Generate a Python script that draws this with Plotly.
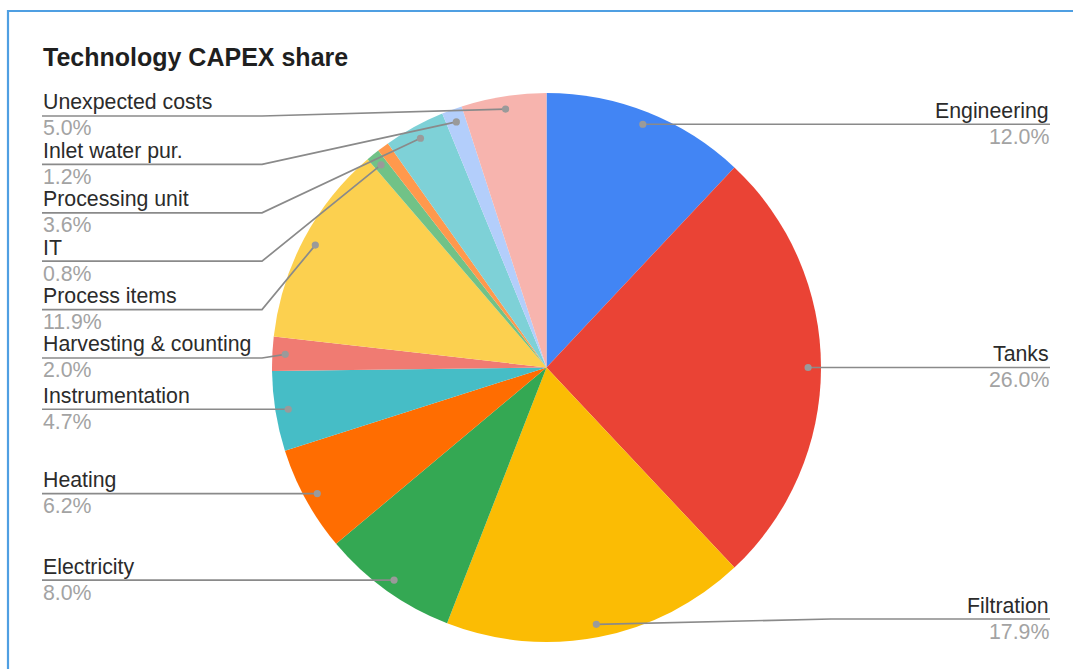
import math
import plotly.graph_objects as go

# Technology CAPEX share, in slice order (clockwise from 12 o'clock)
categories = [
    "Engineering", "Tanks", "Filtration", "Electricity", "Heating",
    "Instrumentation", "Harvesting & counting", "Process items", "IT",
    "Other", "Processing unit", "Inlet water pur.", "Unexpected costs",
]
shares = [12.0, 26.0, 17.9, 8.0, 6.2, 4.7, 2.0, 11.9, 0.8, 0.7, 3.6, 1.2, 5.0]
show_label = [True] * 9 + [False] + [True] * 3

colors = [
    "#4285F4", "#EA4335", "#FBBC04", "#34A853", "#FF6D01", "#46BDC6",
    "#F07B72", "#FCD04F", "#71C287", "#FF994D", "#7ED1D7", "#B3CEFB", "#F7B4AE",
]

W, H = 1073, 669
CX, CY, R = 546.5, 367.5, 274.5
DOT_R = 0.953 * R
LEFT_X, RIGHT_X = 42, 1050
BEND = R + 10
TOP_LIMIT, BOTTOM_LIMIT, GAP = 116, 619, 48.4
FONT = "Liberation Sans, Arial, sans-serif"


def px(x):
    return x / W


def py(y):
    return 1 - y / H


fig = go.Figure(go.Pie(
    labels=categories,
    values=shares,
    sort=False,
    direction="clockwise",
    rotation=0,
    marker=dict(colors=colors, line=dict(width=0)),
    textinfo="none",
    hoverinfo="label+percent",
    showlegend=False,
    domain=dict(x=[px(CX - R), px(CX + R)], y=[py(CY + R), py(CY - R)]),
))

# Leader dots sit on each slice's mid-angle
total = sum(shares)
anchors = []
cum = 0.0
for name, v, show in zip(categories, shares, show_label):
    mid = (cum + v / 2) / total * 2 * math.pi
    cum += v
    if not show:
        continue
    dx, dy = DOT_R * math.sin(mid), -DOT_R * math.cos(mid)
    anchors.append(dict(name=name, value=v / total * 100,
                        x=CX + dx, y=CY + dy, side="right" if dx > 0 else "left"))

# Stack labels on each side so they do not collide
for side in ("left", "right"):
    items = sorted([a for a in anchors if a["side"] == side], key=lambda a: a["y"])
    prev = None
    for a in items:
        ly = max(a["y"], TOP_LIMIT)
        if prev is not None:
            ly = max(ly, prev + GAP)
        a["ly"] = ly
        prev = ly
    nxt = None
    for a in reversed(items):
        ly = min(a["ly"], BOTTOM_LIMIT)
        if nxt is not None:
            ly = min(ly, nxt - GAP)
        a["ly"] = ly
        nxt = ly

shapes = []
annotations = []
line_style = dict(color="#8a8a8a", width=1.7)
for a in anchors:
    if a["side"] == "left":
        bx = CX - BEND
        pts = [(LEFT_X, a["ly"]), (bx, a["ly"]), (a["x"], a["y"])]
        tx, anchor = LEFT_X, "left"
    else:
        bx = CX + BEND
        pts = [(a["x"], a["y"]), (bx, a["ly"]), (RIGHT_X, a["ly"])]
        tx, anchor = RIGHT_X, "right"
    path = "M " + " L ".join(f"{px(x):.5f},{py(y):.5f}" for x, y in pts)
    shapes.append(dict(type="path", xref="paper", yref="paper", path=path,
                       line=line_style, layer="above"))
    r = 3.6
    shapes.append(dict(type="circle", xref="paper", yref="paper",
                       x0=px(a["x"] - r), x1=px(a["x"] + r),
                       y0=py(a["y"] + r), y1=py(a["y"] - r),
                       fillcolor="#9a9a9a", line=dict(width=0), layer="above"))
    annotations.append(dict(x=px(tx), y=py(a["ly"] - 13.5), xref="paper", yref="paper",
                            text=a["name"], showarrow=False, xanchor=anchor,
                            yanchor="middle", borderpad=0,
                            font=dict(family=FONT, size=21.3, color="#2b2b2b")))
    annotations.append(dict(x=px(tx), y=py(a["ly"] + 12.5), xref="paper", yref="paper",
                            text=f"{a['value']:.1f}%", showarrow=False, xanchor=anchor,
                            yanchor="middle", borderpad=0,
                            font=dict(family=FONT, size=21.3, color="#a3a3a3")))

# Frame around the chart card
shapes.append(dict(type="path", xref="paper", yref="paper",
                   path=f"M {px(8)},0 L {px(8)},{py(11)} L 1,{py(11)}",
                   line=dict(color="#4f9fe2", width=2.2), layer="above"))

annotations.append(dict(x=px(LEFT_X), y=py(57), xref="paper", yref="paper",
                        text="<b>Technology CAPEX share</b>", showarrow=False,
                        xanchor="left", yanchor="middle", borderpad=0,
                        font=dict(family=FONT, size=25, color="#1f1f1f")))

fig.update_layout(
    width=W, height=H,
    margin=dict(l=0, r=0, t=0, b=0),
    paper_bgcolor="white",
    plot_bgcolor="white",
    shapes=shapes,
    annotations=annotations,
)

fig.write_html("out.html")
